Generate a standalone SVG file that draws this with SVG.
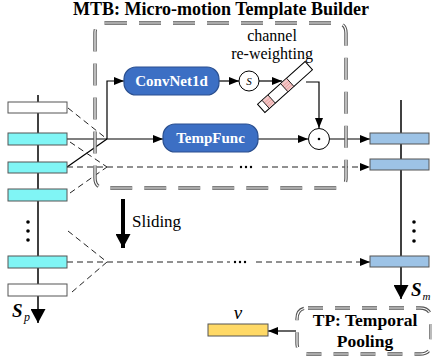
<svg xmlns="http://www.w3.org/2000/svg" width="432" height="362" viewBox="0 0 432 362">
<defs>
<style>
.serif{font-family:"Liberation Serif","Times New Roman",serif;}
.bold{font-weight:bold;}
.dblo{fill:none;stroke:#555;stroke-width:3.4;}
.dbli{fill:none;stroke:#fff;stroke-width:1.2;}
.solid{fill:none;stroke:#000;stroke-width:1.2;}
.dash{fill:none;stroke:#222;stroke-width:1;stroke-dasharray:6 4;}
.cyan{fill:#80f5f5;stroke:#555;stroke-width:1;}
.white{fill:#fff;stroke:#555;stroke-width:1;}
.lblue{fill:#9dc3e6;stroke:#555;stroke-width:1;}
.blue{fill:#3c6fc4;stroke:#2a4f8f;stroke-width:1.2;}
.btxt{fill:#fff;font-size:15px;font-weight:bold;text-anchor:middle;}
</style>
<marker id="ah" viewBox="0 0 10 8" refX="10" refY="4" markerWidth="10" markerHeight="8" markerUnits="userSpaceOnUse" orient="auto">
<path d="M0,0 L10,4 L0,8 Z" fill="#000"/>
</marker>
<marker id="bigah" viewBox="0 0 14 15" refX="14" refY="7.5" markerWidth="14" markerHeight="15" markerUnits="userSpaceOnUse" orient="auto">
<path d="M0,0 L14,7.5 L0,15 Z" fill="#000"/>
</marker>
<path id="mtb" d="M105,23 H336 Q346,23 346,33 V178 Q346,188 336,188 H105 Q95,188 95,178 V33 Q95,23 105,23 Z"/>
<path id="tp" d="M308,308 H420 Q431,308 431,319 V343 Q431,354 420,354 H308 Q297,354 297,343 V319 Q297,308 308,308 Z"/>
</defs>
<rect width="432" height="362" fill="#fff"/>

<text class="serif bold" x="221" y="15" font-size="18" text-anchor="middle">MTB: Micro-motion Template Builder</text>

<g id="connectors">
<line x1="38" y1="95" x2="38" y2="323" stroke="#000" stroke-width="1.5" marker-end="url(#bigah)"/>
<line x1="401" y1="100" x2="401" y2="299" stroke="#000" stroke-width="1.5" marker-end="url(#bigah)"/>
<line x1="123" y1="199" x2="123" y2="248" stroke="#000" stroke-width="4" marker-end="url(#bigah)"/>
<line class="dash" x1="68" y1="108" x2="107" y2="139"/>
<line class="solid" x1="67" y1="167" x2="107" y2="139"/>
<line class="solid" x1="67" y1="139" x2="163" y2="139" marker-end="url(#ah)"/>
<polyline class="solid" points="107,139 107,81 124,81" marker-end="url(#ah)"/>
<line class="dash" x1="70" y1="142" x2="107" y2="167"/>
<line class="dash" x1="70" y1="193" x2="107" y2="167"/>
<line class="dash" x1="67" y1="167" x2="236" y2="167"/>
<line class="dash" x1="262" y1="167" x2="370" y2="167" marker-end="url(#ah)"/>
<line class="dash" x1="68" y1="231" x2="107" y2="262"/>
<line class="dash" x1="72" y1="292" x2="107" y2="262"/>
<line class="dash" x1="67" y1="262" x2="230" y2="262"/>
<line class="dash" x1="256" y1="262" x2="370" y2="262" marker-end="url(#ah)"/>
<line class="solid" x1="219" y1="81" x2="239" y2="81" marker-end="url(#ah)"/>
<line class="solid" x1="259" y1="81" x2="282" y2="81" marker-end="url(#ah)"/>
<polyline class="solid" points="306,82 319,82 319,128" marker-end="url(#ah)"/>
<line class="solid" x1="258" y1="139" x2="308" y2="139" marker-end="url(#ah)"/>
<line class="solid" x1="330" y1="139" x2="370" y2="139" marker-end="url(#ah)"/>
<line class="solid" x1="296" y1="331" x2="268" y2="331" marker-end="url(#ah)"/>
</g>

<g id="ellipsis" fill="#000">
<circle cx="28" cy="222" r="1.8"/><circle cx="28" cy="231" r="1.8"/><circle cx="28" cy="240" r="1.8"/>
<circle cx="414" cy="222" r="1.8"/><circle cx="414" cy="231" r="1.8"/><circle cx="414" cy="241" r="1.8"/>
<circle cx="241" cy="167" r="1.2"/><circle cx="246" cy="167" r="1.2"/><circle cx="251" cy="167" r="1.2"/>
<circle cx="235" cy="262" r="1.2"/><circle cx="240" cy="262" r="1.2"/><circle cx="245" cy="262" r="1.2"/>
</g>

<g id="mtb-frame">
<use href="#mtb" class="dblo" stroke-dasharray="22 12"/>
<use href="#mtb" class="dbli" stroke-dasharray="22 12"/>
</g>

<g id="left-column">
<rect class="white" x="8" y="102" width="59" height="11"/>
<rect class="cyan" x="8" y="133" width="59" height="12"/>
<rect class="cyan" x="8" y="162" width="59" height="11"/>
<rect class="cyan" x="8" y="189" width="59" height="12"/>
<rect class="cyan" x="8" y="256" width="59" height="12"/>
<rect class="white" x="8" y="284" width="59" height="12"/>
<text class="serif bold" x="12" y="317" font-size="19" font-style="italic">S</text>
<text class="serif" x="24" y="321" font-size="12" font-style="italic">p</text>
</g>

<g id="right-column">
<rect class="lblue" x="370" y="133" width="59" height="11"/>
<rect class="lblue" x="370" y="159" width="59" height="11"/>
<rect class="lblue" x="370" y="256" width="59" height="11"/>
<text class="serif bold" x="411" y="296" font-size="19" font-style="italic">S</text>
<text class="serif" x="422.5" y="300" font-size="11" font-style="italic">m</text>
</g>

<g id="convnet">
<rect class="blue" x="124" y="67" width="95" height="28" rx="12"/>
<text class="serif btxt" x="171.5" y="86">ConvNet1d</text>
</g>

<g id="tempfunc">
<rect class="blue" x="163" y="124" width="95" height="28" rx="12"/>
<text class="serif btxt" x="210.5" y="143">TempFunc</text>
</g>

<g id="sigmoid">
<circle cx="249" cy="81" r="10" fill="#fff" stroke="#000" stroke-width="1"/>
<text class="serif" x="249" y="85" font-size="11" font-style="italic" text-anchor="middle">S</text>
</g>

<g id="reweight">
<text class="serif" x="272" y="41" font-size="16" text-anchor="middle">channel</text>
<text class="serif" x="272" y="59" font-size="16" text-anchor="middle">re-weighting</text>
<g transform="translate(285,87) rotate(-42)">
<rect x="-32" y="-5.5" width="64" height="11" fill="#fff" stroke="#000" stroke-width="1"/>
<rect x="-1" y="-5" width="8" height="10" fill="#f4c7c7"/>
<rect x="-26" y="-5" width="8" height="10" fill="#f4c7c7"/>
<g stroke="#e08080" stroke-width="0.5">
<line x1="-1" y1="-2" x2="7" y2="-2"/><line x1="-1" y1="0.5" x2="7" y2="0.5"/><line x1="-1" y1="3" x2="7" y2="3"/>
<line x1="-26" y1="-2" x2="-18" y2="-2"/><line x1="-26" y1="0.5" x2="-18" y2="0.5"/><line x1="-26" y1="3" x2="-18" y2="3"/>
</g>
<line x1="-1" y1="-5.5" x2="-1" y2="5.5" stroke="#000" stroke-width="0.8"/>
<line x1="7" y1="-5.5" x2="7" y2="5.5" stroke="#000" stroke-width="0.8"/>
<line x1="-26" y1="-5.5" x2="-26" y2="5.5" stroke="#000" stroke-width="0.8"/>
<line x1="-18" y1="-5.5" x2="-18" y2="5.5" stroke="#000" stroke-width="0.8"/>
</g>
</g>

<g id="dot-product">
<circle cx="319" cy="139" r="10.5" fill="#fff" stroke="#000" stroke-width="1"/>
<circle cx="319" cy="139" r="1.3" fill="#000"/>
</g>

<g id="sliding">
<text class="serif" x="132" y="227" font-size="17">Sliding</text>
</g>

<g id="tp-box">
<use href="#tp" class="dblo" stroke-dasharray="15 12"/>
<use href="#tp" class="dbli" stroke-dasharray="15 12"/>
<text class="serif bold" x="365" y="326" font-size="17.5" text-anchor="middle">TP: Temporal</text>
<text class="serif bold" x="365" y="347" font-size="17.5" text-anchor="middle">Pooling</text>
</g>

<g id="v-out">
<rect x="208" y="324" width="60" height="12" fill="#ffd966" stroke="#555" stroke-width="1"/>
<text class="serif" x="238" y="319" font-size="19" font-style="italic" text-anchor="middle">v</text>
</g>
</svg>
